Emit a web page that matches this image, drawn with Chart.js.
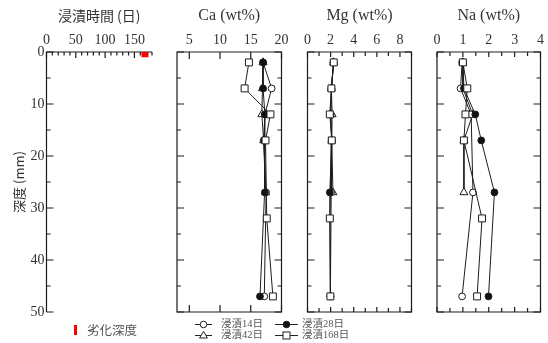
<!DOCTYPE html>
<html>
<head>
<meta charset="utf-8">
<script src="https://cdn.jsdelivr.net/npm/chart.js@4/dist/chart.umd.min.js"></script>
<style>
  html, body { margin: 0; padding: 0; background: #fff; }
  #wrap { position: relative; width: 548px; height: 343px; overflow: hidden; }
  #wrap canvas { position: absolute; left: 0; top: 0; }
  .lg { position: absolute; font-family: "Liberation Serif", "Noto Sans CJK JP", serif; color: #555; white-space: nowrap; line-height: 1; }
</style>
</head>
<body>
<div id="wrap">
  <canvas id="cTime" width="548" height="343"></canvas>
  <canvas id="cCa" width="548" height="343"></canvas>
  <canvas id="cMg" width="548" height="343"></canvas>
  <canvas id="cNa" width="548" height="343"></canvas>

  <!-- degradation depth key -->
  <div class="lg" style="left:74px;top:325px;width:3px;height:10px;background:#f00;"></div>
  <div class="lg" style="left:87px;top:324px;font-size:12.5px;font-family:'Noto Sans CJK JP',sans-serif;">劣化深度</div>

  <!-- series key -->
  <svg width="548" height="343" style="position:absolute;left:0;top:0;pointer-events:none">
    <g stroke="#222" stroke-width="1" fill="none">
      <line x1="195" y1="324.5" x2="212" y2="324.5"/>
      <circle cx="203.5" cy="324.5" r="3.3" fill="#fff"/>
      <line x1="195" y1="335.5" x2="212" y2="335.5"/>
      <path d="M203.5 331.3 L207.4 338 L199.6 338 Z" fill="#fff"/>
      <line x1="275" y1="324.5" x2="298" y2="324.5"/>
      <circle cx="286.5" cy="324.5" r="3.3" fill="#111"/>
      <line x1="275" y1="335.5" x2="298" y2="335.5"/>
      <rect x="283" y="332" width="7" height="7" fill="#fff"/>
    </g>
  </svg>
  <div class="lg" style="left:221px;top:319px;font-size:10.5px;">浸漬14日</div>
  <div class="lg" style="left:221px;top:330px;font-size:10.5px;">浸漬42日</div>
  <div class="lg" style="left:302px;top:319px;font-size:10.5px;">浸漬28日</div>
  <div class="lg" style="left:302px;top:330px;font-size:10.5px;">浸漬168日</div>
</div>

<script>
// ---- sampling depths (mm) ----
const depths = [2, 7, 12, 17, 27, 32, 47];

// ---- Ca (wt%) by depth; null = not measured ----
const ca14  = [17.0, 18.4, 17.3, 17.1, 17.5, null, 17.2];
const ca28  = [17.0, 17.0, 17.3, 17.2, 17.3, null, 16.5];
const ca42  = [17.0, 16.9, 16.8, 17.1, 17.4, null, null];
const ca168 = [14.7, 14.0, 18.2, 17.4, null, 17.6, 18.6];

// ---- Mg (wt%) ----
const mg14  = [2.25, 2.07, 2.00, 2.10, 2.05, null, 1.98];
const mg28  = [2.25, 2.07, 2.00, 2.10, 1.93, null, 1.98];
const mg42  = [2.25, 2.07, 2.13, 2.10, 2.20, null, null];
const mg168 = [2.27, 2.07, 1.93, 2.10, null, 1.93, 1.98];

// ---- Na (wt%) ----
const na14  = [0.97, 0.91, 1.32, null, 1.39, null, 0.97];
const na28  = [1.00, 1.04, 1.48, 1.71, 2.22, null, 1.99];
const na42  = [1.00, 1.00, 1.38, 1.04, 1.04, null, null];
const na168 = [1.00, 1.17, 1.10, 1.04, null, 1.74, 1.55];

// ---- degradation depth vs immersion time ----
const immersionDays = [168];
const degradedDepth = [1];

// ---- tick labels ----
const depthTicks = [0, 10, 20, 30, 40, 50];
const depthMinor = [5, 15, 25, 35, 45];
const dayTicks = [0, 50, 100, 150];
const dayMinor = [10, 20, 30, 40, 60, 70, 80, 90, 110, 120, 130, 140, 160, 170, 180];
const caTicks = [5, 10, 15, 20];
const caMinor = [];
const mgTicks = [0, 2, 4, 6, 8];
const mgMinor = [1, 3, 5, 7, 9];
const naTicks = [0, 1, 2, 3, 4];
const naMinor = [0.5, 1.5, 2.5, 3.5];

const SERIF = "'Liberation Serif', 'Times New Roman', serif";
const CJK = "'Noto Sans CJK JP', sans-serif";
const INK = '#1c1c1c';
const TEXT = '#333';

// Frame and inward tick marks, placed through the chart's own scales
const frameTicks = {
  id: 'frameTicks',
  beforeDatasetsDraw(chart, args, o) {
    const { ctx, chartArea: a, scales: { x, y } } = chart;
    ctx.save();
    ctx.strokeStyle = INK;
    ctx.lineWidth = 1.2;
    ctx.beginPath();
    ctx.moveTo(a.left, a.bottom);
    ctx.lineTo(a.left, a.top);
    ctx.lineTo(a.right, a.top);
    if (o.box) { ctx.lineTo(a.right, a.bottom); ctx.lineTo(a.left, a.bottom); ctx.closePath(); }
    ctx.stroke();

    ctx.beginPath();
    const xTick = (v, len) => {
      const px = x.getPixelForValue(v);
      ctx.moveTo(px, a.top); ctx.lineTo(px, a.top + len);
      if (o.box) { ctx.moveTo(px, a.bottom); ctx.lineTo(px, a.bottom - len); }
    };
    const yTick = (v, len) => {
      const py = y.getPixelForValue(v);
      ctx.moveTo(a.left, py); ctx.lineTo(a.left + len, py);
      if (o.box) { ctx.moveTo(a.right, py); ctx.lineTo(a.right - len, py); }
    };
    o.xMajor.forEach(v => xTick(v, o.xMajorLen));
    o.xMinor.forEach(v => xTick(v, o.xMinorLen));
    depthTicks.forEach(v => yTick(v, 7));
    depthMinor.forEach(v => yTick(v, 4));
    ctx.stroke();
    ctx.restore();
  }
};

function pts(vals) {
  return depths.map((d, i) => vals[i] == null ? null : { x: vals[i], y: d }).filter(Boolean);
}

function series(label, vals, style, fill, radius) {
  return {
    label,
    data: pts(vals),
    showLine: true,
    borderColor: INK,
    borderWidth: 1,
    pointStyle: style,
    pointRadius: radius,
    pointBackgroundColor: fill,
    pointBorderColor: INK,
    pointBorderWidth: 1,
    clip: false
  };
}

function dataSets(v14, v28, v42, v168) {
  // first entry is drawn on top
  return [
    series('浸漬168日', v168, 'rect', '#fff', 4.9),
    series('浸漬28日', v28, 'circle', '#111', 3.4),
    series('浸漬14日', v14, 'circle', '#fff', 3.4),
    series('浸漬42日', v42, 'triangle', '#fff', 4.6)
  ];
}

function makeChart(id, area, cfg) {
  const Hx = area.top;
  const Wy = cfg.yLabels ? area.left : 0;
  return new Chart(document.getElementById(id), {
    type: 'scatter',
    data: { datasets: cfg.datasets },
    options: {
      responsive: false,
      animation: false,
      events: [],
      layout: {
        padding: {
          left: area.left - Wy,
          top: 0,
          right: 548 - area.right,
          bottom: 343 - area.bottom
        }
      },
      plugins: {
        legend: { display: false },
        tooltip: { enabled: false },
        frameTicks: cfg.frame
      },
      scales: {
        x: {
          type: 'linear',
          position: 'top',
          min: cfg.xMin,
          max: cfg.xMax,
          grid: { display: false, drawTicks: false },
          border: { display: false },
          afterBuildTicks: s => { s.ticks = cfg.xTicks.map(v => ({ value: v })); },
          afterFit: s => { s.height = Hx; },
          ticks: {
            padding: 3,
            color: TEXT,
            font: { family: SERIF, size: 14 },
            maxRotation: 0,
            autoSkip: false
          },
          title: {
            display: true,
            text: cfg.title,
            color: TEXT,
            font: cfg.titleFont,
            padding: { top: cfg.titlePad, bottom: 0 }
          }
        },
        y: {
          type: 'linear',
          position: 'left',
          reverse: true,
          min: 0,
          max: 50,
          grid: { display: false, drawTicks: false },
          border: { display: false },
          afterBuildTicks: s => { s.ticks = depthTicks.map(v => ({ value: v })); },
          afterFit: s => { s.width = Wy; },
          ticks: {
            display: !!cfg.yLabels,
            padding: 2,
            color: TEXT,
            font: { family: SERIF, size: 14 },
            autoSkip: false
          },
          title: {
            display: !!cfg.yLabels,
            text: '深度 (mm)',
            color: TEXT,
            font: { family: CJK, size: 13 },
            padding: { top: 11, bottom: 0 }
          }
        }
      }
    },
    plugins: [frameTicks]
  });
}

// Panel 1: degradation depth vs immersion time
makeChart('cTime', { left: 46.5, right: 152, top: 52, bottom: 312 }, {
  xMin: 0, xMax: 180, xTicks: dayTicks, yLabels: true,
  title: '浸漬時間 (日)',
  titleFont: { family: CJK, size: 14 }, titlePad: 7,
  frame: { box: false, xMajor: dayTicks, xMinor: dayMinor, xMajorLen: 6, xMinorLen: 3.5 },
  datasets: [{
    label: '劣化深度',
    data: immersionDays.flatMap((d, i) => [{ x: d, y: 0 }, { x: d, y: degradedDepth[i] }]),
    showLine: true,
    borderColor: '#ff0000',
    borderWidth: 7,
    borderCapStyle: 'butt',
    pointRadius: 0,
    clip: false
  }]
});

makeChart('cCa', { left: 177, right: 281.5, top: 52, bottom: 312 }, {
  xMin: 3, xMax: 20, xTicks: caTicks,
  title: 'Ca (wt%)',
  titleFont: { family: SERIF, size: 16 }, titlePad: 6,
  frame: { box: true, xMajor: caTicks, xMinor: caMinor, xMajorLen: 7, xMinorLen: 4 },
  datasets: dataSets(ca14, ca28, ca42, ca168)
});

makeChart('cMg', { left: 307.5, right: 411.5, top: 52, bottom: 312 }, {
  xMin: 0, xMax: 9, xTicks: mgTicks,
  title: 'Mg (wt%)',
  titleFont: { family: SERIF, size: 16 }, titlePad: 6,
  frame: { box: true, xMajor: mgTicks, xMinor: mgMinor, xMajorLen: 5, xMinorLen: 4 },
  datasets: dataSets(mg14, mg28, mg42, mg168)
});

makeChart('cNa', { left: 437, right: 540.5, top: 52, bottom: 312 }, {
  xMin: 0, xMax: 4, xTicks: naTicks,
  title: 'Na (wt%)',
  titleFont: { family: SERIF, size: 16 }, titlePad: 6,
  frame: { box: true, xMajor: naTicks, xMinor: naMinor, xMajorLen: 5, xMinorLen: 4 },
  datasets: dataSets(na14, na28, na42, na168)
});
</script>
</body>
</html>
